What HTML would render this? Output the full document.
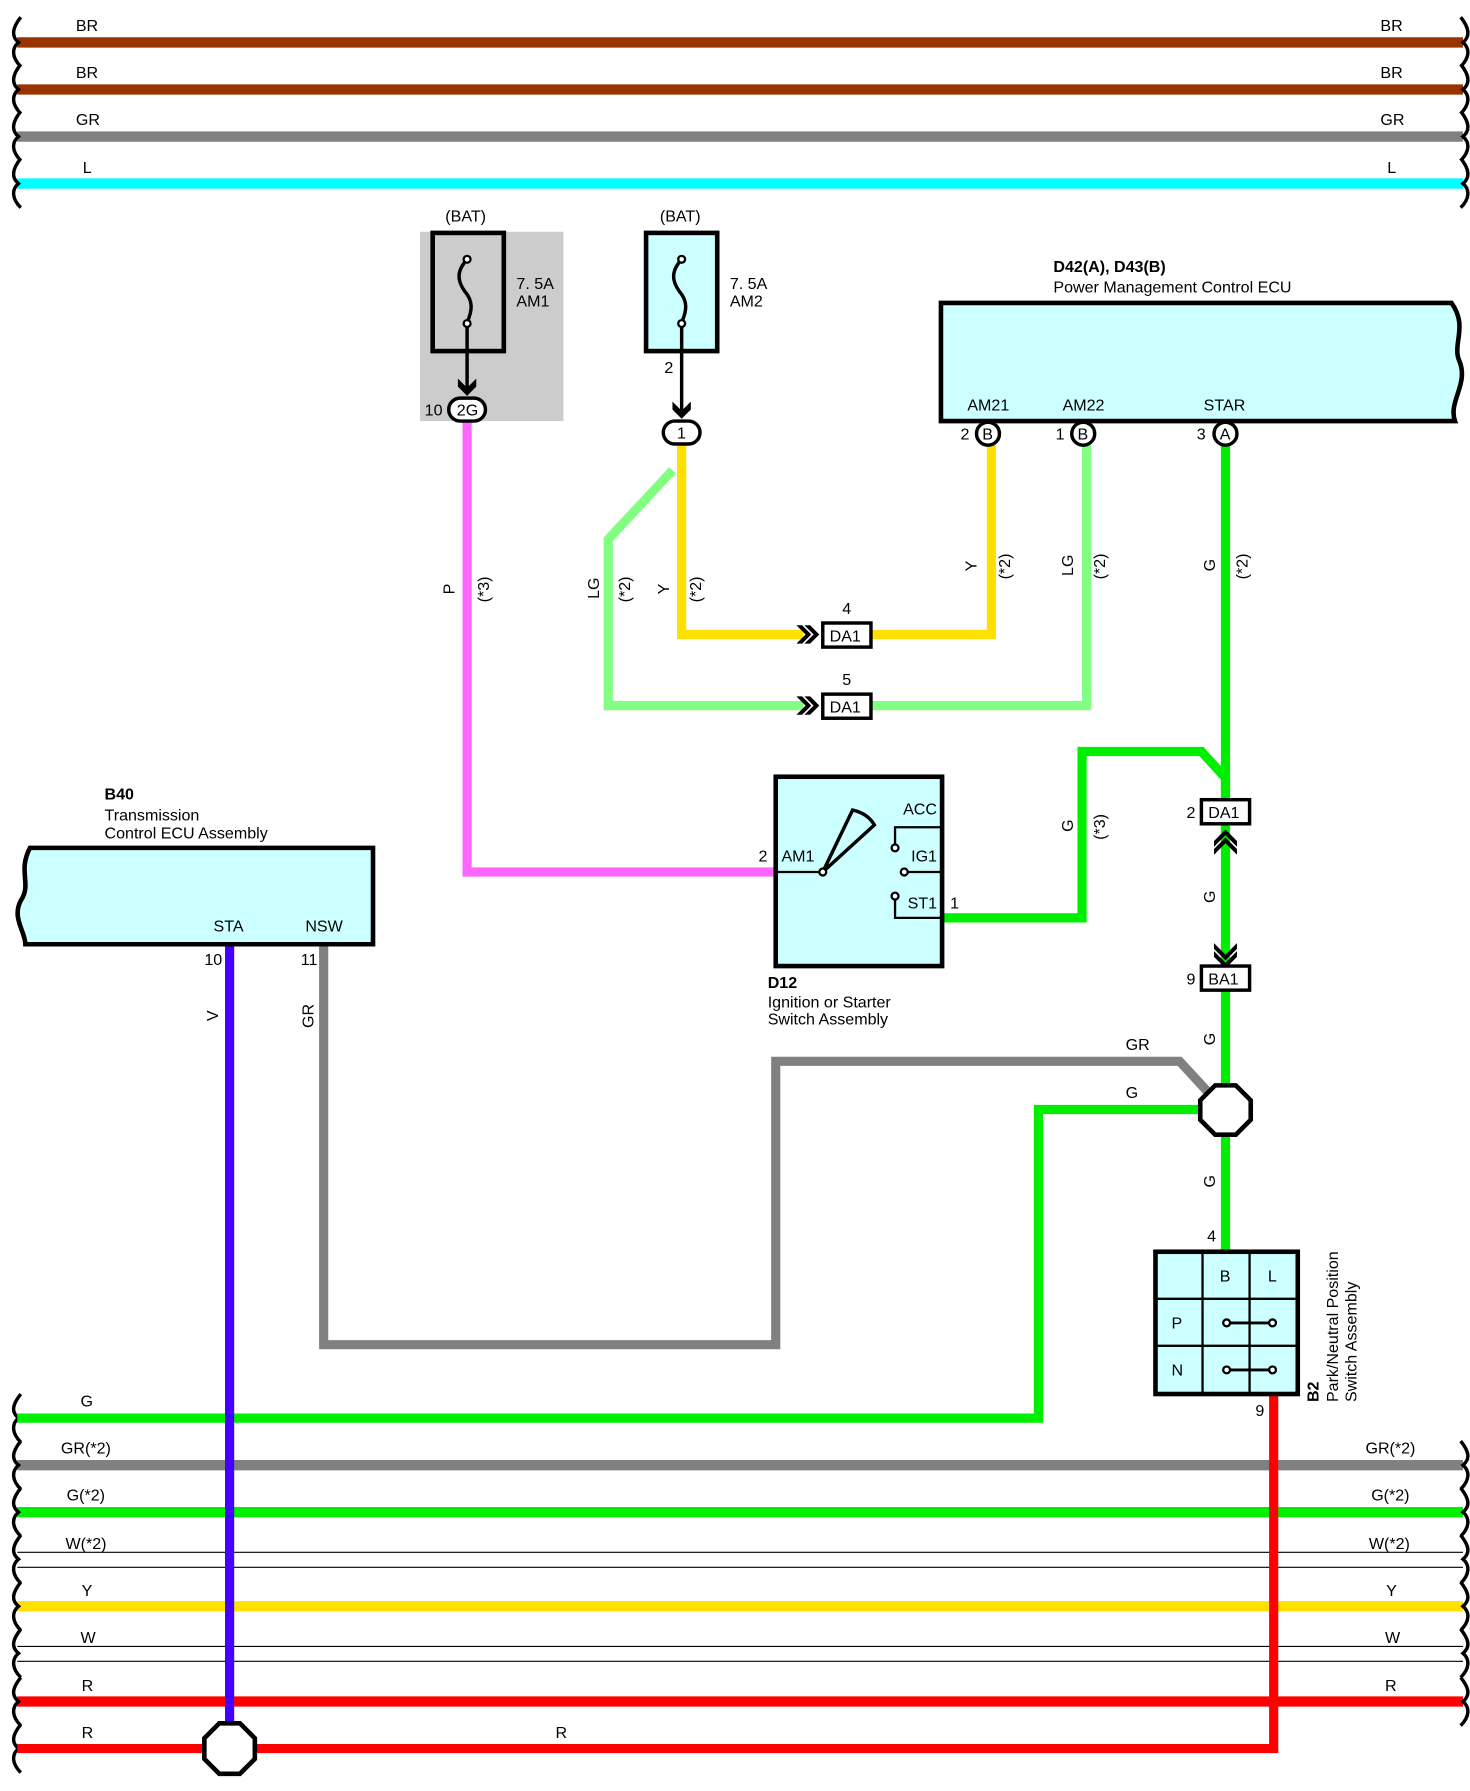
<!DOCTYPE html>
<html><head><meta charset="utf-8"><style>
html,body{margin:0;padding:0;background:#fff}
svg{display:block}
text{font-family:"Liberation Sans",sans-serif;font-size:14px;fill:#000}
.w{fill:none;stroke-width:8;stroke-linejoin:miter}
.b{fill:none;stroke:#000;stroke-width:3}
</style></head><body>
<svg width="1470" height="1791" viewBox="0 0 1281 1561" xmlns="http://www.w3.org/2000/svg">
<!-- top buses -->
<g>
<line x1="15" y1="37" x2="1275" y2="37" stroke="#993300" stroke-width="9"/>
<line x1="15" y1="78" x2="1275" y2="78" stroke="#993300" stroke-width="9"/>
<line x1="15" y1="119" x2="1275" y2="119" stroke="#808080" stroke-width="9"/>
<line x1="15" y1="160" x2="1275" y2="160" stroke="#00FFFF" stroke-width="9"/>
<text x="66" y="27">BR</text><text x="1203" y="27">BR</text>
<text x="66" y="68">BR</text><text x="1203" y="68">BR</text>
<text x="66" y="109">GR</text><text x="1203" y="109">GR</text>
<text x="72" y="151">L</text><text x="1209" y="151">L</text>
</g>
<g class="b" stroke-width="3">
<path d="M18,15 C10,25 10,32 16,37 C10,42 10,50 18,58"/>
<path d="M18,56 C10,66 10,73 16,78 C10,83 10,91 18,99"/>
<path d="M18,97 C10,107 10,114 16,119 C10,124 10,132 18,140"/>
<path d="M18,138 C10,148 10,155 16,160 C10,165 10,173 18,181"/>
<path d="M1273,15 C1281,25 1281,32 1275,37 C1281,42 1281,50 1273,58"/>
<path d="M1273,56 C1281,66 1281,73 1275,78 C1281,83 1281,91 1273,99"/>
<path d="M1273,97 C1281,107 1281,114 1275,119 C1281,124 1281,132 1273,140"/>
<path d="M1273,138 C1281,148 1281,155 1275,160 C1281,165 1281,173 1273,181"/>
</g>

<!-- bottom buses -->
<line x1="15" y1="1277" x2="1275" y2="1277" stroke="#808080" stroke-width="9"/>
<line x1="15" y1="1318" x2="1275" y2="1318" stroke="#00EE00" stroke-width="9"/>
<line x1="15" y1="1353" x2="1275" y2="1353" stroke="#000" stroke-width="1"/>
<line x1="15" y1="1366" x2="1275" y2="1366" stroke="#000" stroke-width="1"/>
<line x1="15" y1="1400" x2="1275" y2="1400" stroke="#FFE000" stroke-width="9"/>
<line x1="15" y1="1435" x2="1275" y2="1435" stroke="#000" stroke-width="1"/>
<line x1="15" y1="1448" x2="1275" y2="1448" stroke="#000" stroke-width="1"/>
<line x1="15" y1="1483" x2="1275" y2="1483" stroke="#FF0000" stroke-width="9"/>
<text x="70" y="1226">G</text>
<text x="53" y="1267">GR(*2)</text><text x="1190" y="1267">GR(*2)</text>
<text x="58" y="1308">G(*2)</text><text x="1195" y="1308">G(*2)</text>
<text x="57" y="1350">W(*2)</text><text x="1193" y="1350">W(*2)</text>
<text x="71" y="1391">Y</text><text x="1208" y="1391">Y</text>
<text x="70" y="1432">W</text><text x="1207" y="1432">W</text>
<text x="71" y="1474">R</text><text x="1207" y="1474">R</text>
<text x="71" y="1515">R</text><text x="484" y="1515">R</text>
<g class="b">
<path d="M18,1215 C10,1225 10,1231 16,1236 C10,1241 10,1249 18,1257"/>
<path d="M18,1256 C10,1266 10,1272 16,1277 C10,1282 10,1290 18,1298"/>
<path d="M18,1297 C10,1307 10,1313 16,1318 C10,1323 10,1331 18,1339"/>
<path d="M18,1338 C10,1348 10,1354 16,1359 C10,1364 10,1372 18,1380"/>
<path d="M18,1379 C10,1389 10,1395 16,1400 C10,1405 10,1413 18,1421"/>
<path d="M18,1420 C10,1430 10,1436 16,1441 C10,1446 10,1454 18,1462"/>
<path d="M18,1462 C10,1472 10,1478 16,1483 C10,1488 10,1496 18,1504"/>
<path d="M18,1503 C10,1513 10,1519 16,1524 C10,1529 10,1537 18,1545"/>
<path d="M1273,1256 C1281,1266 1281,1272 1275,1277 C1281,1282 1281,1290 1273,1298"/>
<path d="M1273,1297 C1281,1307 1281,1313 1275,1318 C1281,1323 1281,1331 1273,1339"/>
<path d="M1273,1338 C1281,1348 1281,1354 1275,1359 C1281,1364 1281,1372 1273,1380"/>
<path d="M1273,1379 C1281,1389 1281,1395 1275,1400 C1281,1405 1281,1413 1273,1421"/>
<path d="M1273,1420 C1281,1430 1281,1436 1275,1441 C1281,1446 1281,1454 1273,1462"/>
<path d="M1273,1462 C1281,1472 1281,1478 1275,1483 C1281,1488 1281,1496 1273,1504"/>
</g>

<!-- AM1 fuse -->
<rect x="366" y="202" width="125" height="165" fill="#CCCCCC"/>
<rect x="377" y="203" width="62" height="103" fill="#CCCCCC" stroke="#000" stroke-width="4"/>
<path d="M407,226 C398,236 398,244 405,254 C412,262 412,270 407,281" fill="none" stroke="#000" stroke-width="3"/>
<circle cx="407" cy="226" r="3" fill="#fff" stroke="#000" stroke-width="2"/>
<circle cx="407" cy="282" r="3" fill="#fff" stroke="#000" stroke-width="2"/>
<line x1="407" y1="285" x2="407" y2="340" stroke="#000" stroke-width="3"/>
<path d="M399,330 L407,338 L415,330 L415,337 L407,345 L399,337Z" fill="#000"/>
<text x="388" y="193">(BAT)</text>
<text x="450" y="252">7. 5A</text><text x="450" y="267">AM1</text>
<!-- AM2 fuse -->
<rect x="563" y="203" width="62" height="103" fill="#CCFFFF" stroke="#000" stroke-width="4"/>
<path d="M594,226 C585,236 585,244 592,254 C599,262 599,270 594,281" fill="none" stroke="#000" stroke-width="3"/>
<circle cx="594" cy="226" r="3" fill="#fff" stroke="#000" stroke-width="2"/>
<circle cx="594" cy="282" r="3" fill="#fff" stroke="#000" stroke-width="2"/>
<line x1="594" y1="285" x2="594" y2="362" stroke="#000" stroke-width="3"/>
<path d="M586,350 L594,358 L602,350 L602,357 L594,365 L586,357Z" fill="#000"/>
<text x="575" y="193">(BAT)</text>
<text x="636" y="252">7. 5A</text><text x="636" y="267">AM2</text>
<text x="579" y="325">2</text>

<!-- wires -->
<path class="w" stroke="#FF66FF" d="M407,367 V760 H676"/>
<path class="w" stroke="#FFE000" d="M594,388 V553 H700 M760,553 H864 V388"/>
<path class="w" stroke="#80FF80" d="M586,410 L530,470 V615 H700 M760,615 H947 V388"/>
<path class="w" stroke="#00EE00" d="M1068,388 V697 M1068,719 V842 M1068,864 V946 M1068,989 V1090"/>
<path class="w" stroke="#00EE00" d="M1068,690 V678 L1047,655 H943 V800 H822"/>
<path class="w" stroke="#808080" d="M1052,951 L1028,925 H676 V1172 H282 V823"/>
<path class="w" stroke="#00EE00" d="M1047,967 H905 V1236 H15"/>
<path class="w" stroke="#FF0000" d="M1110,1215 V1524 H15"/>
<path class="w" stroke="#4400FF" d="M200,823 V1502"/>

<!-- connectors -->
<rect x="391" y="347" width="32" height="20" rx="10" fill="#fff" stroke="#000" stroke-width="3"/>
<text x="398" y="362">2G</text><text x="370" y="362">10</text>
<rect x="578" y="367" width="32" height="20" rx="10" fill="#fff" stroke="#000" stroke-width="3"/>
<text x="590" y="382">1</text>

<g fill="#000">
<path d="M694,545 L702,553 L694,561 L699,561 L707,553 L699,545Z M701,545 L709,553 L701,561 L706,561 L714,553 L706,545Z"/>
<path d="M694,607 L702,615 L694,623 L699,623 L707,615 L699,607Z M701,607 L709,615 L701,623 L706,623 L714,615 L706,607Z"/>
<path d="M1058,738 L1068,728 L1078,738 L1078,733 L1068,723 L1058,733Z M1058,745 L1068,735 L1078,745 L1078,740 L1068,730 L1058,740Z"/>
<path d="M1058,822 L1068,832 L1078,822 L1078,827 L1068,837 L1058,827Z M1058,829 L1068,839 L1078,829 L1078,834 L1068,844 L1058,834Z"/>
</g>
<rect x="717" y="543" width="42" height="21" fill="#fff" stroke="#000" stroke-width="3"/><text x="723" y="559">DA1</text><text x="734" y="535">4</text>
<rect x="717" y="605" width="42" height="21" fill="#fff" stroke="#000" stroke-width="3"/><text x="723" y="621">DA1</text><text x="734" y="597">5</text>
<rect x="1047" y="697" width="42" height="21" fill="#fff" stroke="#000" stroke-width="3"/><text x="1053" y="713">DA1</text><text x="1034" y="713">2</text>
<rect x="1047" y="842" width="42" height="21" fill="#fff" stroke="#000" stroke-width="3"/><text x="1053" y="858">BA1</text><text x="1034" y="858">9</text>

<polygon points="1059,946 1077,946 1090,959 1090,976 1077,989 1059,989 1046,976 1046,959" fill="#fff" stroke="#000" stroke-width="4"/>
<polygon points="191,1502 209,1502 222,1515 222,1533 209,1546 191,1546 178,1533 178,1515" fill="#fff" stroke="#000" stroke-width="4"/>

<!-- ECU D42 -->
<path d="M820,264 H1265 C1280,285 1265,300 1272,315 C1280,335 1262,350 1268,367 H820Z" fill="#CCFFFF" stroke="#000" stroke-width="4"/>
<text x="918" y="237" font-weight="bold">D42(A), D43(B)</text>
<text x="918" y="255">Power Management Control ECU</text>
<text x="843" y="358">AM21</text><text x="926" y="358">AM22</text><text x="1049" y="358">STAR</text>
<g fill="#fff" stroke="#000" stroke-width="3">
<circle cx="861" cy="378" r="10"/><circle cx="944" cy="378" r="10"/><circle cx="1068" cy="378" r="10"/>
</g>
<text x="856" y="383">B</text><text x="939" y="383">B</text><text x="1063" y="383">A</text>
<text x="837" y="383">2</text><text x="920" y="383">1</text><text x="1043" y="383">3</text>

<!-- B40 -->
<path d="M325,739 H26 C15,760 28,770 18,785 C10,800 22,812 22,823 H325Z" fill="#CCFFFF" stroke="#000" stroke-width="4"/>
<text x="91" y="697" font-weight="bold">B40</text>
<text x="91" y="715">Transmission</text><text x="91" y="731">Control ECU Assembly</text>
<text x="186" y="812">STA</text><text x="266" y="812">NSW</text>
<text x="178" y="841">10</text><text x="262" y="841">11</text>

<!-- D12 -->
<rect x="676" y="677" width="145" height="165" fill="#CCFFFF" stroke="#000" stroke-width="4"/>
<line x1="676" y1="760" x2="716" y2="760" stroke="#000" stroke-width="2"/>
<path d="M717,760 L743,706 C752,708 758,712 762,719 Z" fill="none" stroke="#000" stroke-width="3"/>
<circle cx="717" cy="760" r="3" fill="#fff" stroke="#000" stroke-width="2"/>
<path d="M780,738 V721 H821 M788,760 H821 M780,783 V800 H821" fill="none" stroke="#000" stroke-width="2"/>
<circle cx="780" cy="739" r="3" fill="#fff" stroke="#000" stroke-width="2"/>
<circle cx="788" cy="760" r="3" fill="#fff" stroke="#000" stroke-width="2"/>
<circle cx="780" cy="781" r="3" fill="#fff" stroke="#000" stroke-width="2"/>
<text x="787" y="710">ACC</text><text x="794" y="751">IG1</text><text x="791" y="792">ST1</text>
<text x="681" y="751">AM1</text><text x="661" y="751">2</text><text x="828" y="792">1</text>
<text x="669" y="861" font-weight="bold">D12</text>
<text x="669" y="878">Ignition or Starter</text><text x="669" y="893">Switch Assembly</text>

<!-- B2 -->
<rect x="1007" y="1091" width="124" height="124" fill="#CCFFFF" stroke="#000" stroke-width="4"/>
<path d="M1048,1091 V1215 M1089,1091 V1215 M1007,1132 H1131 M1007,1173 H1131" stroke="#000" stroke-width="2"/>
<path d="M1069,1153 H1109 M1069,1194 H1109" stroke="#000" stroke-width="2.5"/>
<g fill="#fff" stroke="#000" stroke-width="2">
<circle cx="1069" cy="1153" r="3"/><circle cx="1109" cy="1153" r="3"/><circle cx="1069" cy="1194" r="3"/><circle cx="1109" cy="1194" r="3"/>
</g>
<text x="1063" y="1117">B</text><text x="1105" y="1117">L</text><text x="1021" y="1158">P</text><text x="1021" y="1199">N</text>
<text x="1052" y="1082">4</text><text x="1094" y="1234">9</text>
<g transform="translate(1149,1222) rotate(-90)"><text font-weight="bold">B2</text></g>
<g transform="translate(1166,1222) rotate(-90)"><text>Park/Neutral Position</text></g>
<g transform="translate(1182,1222) rotate(-90)"><text>Switch Assembly</text></g>

<!-- wire labels -->
<text x="981" y="915">GR</text><text x="981" y="957">G</text>
<g font-size="13">
<g transform="translate(396,518) rotate(-90)"><text>P</text></g>
<g transform="translate(426,525) rotate(-90)"><text>(*3)</text></g>
<g transform="translate(522,522) rotate(-90)"><text>LG</text></g>
<g transform="translate(549,525) rotate(-90)"><text>(*2)</text></g>
<g transform="translate(583,518) rotate(-90)"><text>Y</text></g>
<g transform="translate(611,525) rotate(-90)"><text>(*2)</text></g>
<g transform="translate(851,498) rotate(-90)"><text>Y</text></g>
<g transform="translate(880,505) rotate(-90)"><text>(*2)</text></g>
<g transform="translate(935,502) rotate(-90)"><text>LG</text></g>
<g transform="translate(963,505) rotate(-90)"><text>(*2)</text></g>
<g transform="translate(1059,498) rotate(-90)"><text>G</text></g>
<g transform="translate(1087,505) rotate(-90)"><text>(*2)</text></g>
<g transform="translate(935,725) rotate(-90)"><text>G</text></g>
<g transform="translate(963,732) rotate(-90)"><text>(*3)</text></g>
<g transform="translate(1059,787) rotate(-90)"><text>G</text></g>
<g transform="translate(1059,911) rotate(-90)"><text>G</text></g>
<g transform="translate(1059,1035) rotate(-90)"><text>G</text></g>
<g transform="translate(190,890) rotate(-90)"><text>V</text></g>
<g transform="translate(273,896) rotate(-90)"><text>GR</text></g>
</g>
</svg>
</body></html>
